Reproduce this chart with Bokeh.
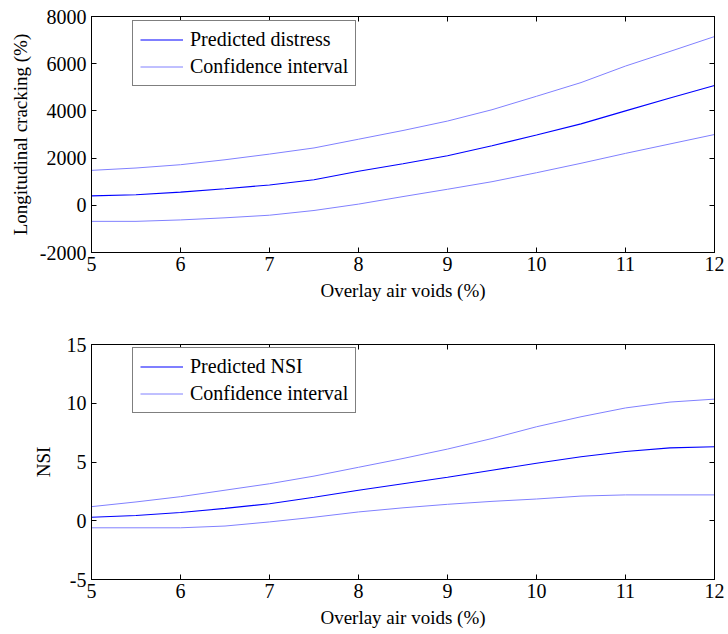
from bokeh.plotting import figure
from bokeh.layouts import column
from bokeh.models import (LinearAxis, Range1d, FixedTicker, Legend, LegendItem,
                          PrintfTickFormatter)
from bokeh.embed import file_html
from bokeh.resources import INLINE

# ---- data ----
air_voids = [5, 5.5, 6, 6.5, 7, 7.5, 8, 8.5, 9, 9.5, 10, 10.5, 11, 11.5, 12]

crack_pred = [400, 450, 560, 700, 860, 1080, 1440, 1760, 2100, 2520, 2980, 3450, 4000, 4550, 5080]
crack_upper = [1480, 1580, 1720, 1930, 2170, 2430, 2800, 3170, 3570, 4050, 4620, 5200, 5900, 6520, 7150]
crack_lower = [-680, -680, -620, -530, -420, -220, 50, 370, 680, 1000, 1380, 1780, 2200, 2600, 3000]

nsi_pred = [0.3, 0.45, 0.7, 1.05, 1.45, 2.0, 2.6, 3.15, 3.7, 4.3, 4.9, 5.45, 5.9, 6.2, 6.3]
nsi_upper = [1.2, 1.6, 2.05, 2.6, 3.15, 3.8, 4.55, 5.3, 6.1, 7.0, 8.0, 8.85, 9.6, 10.1, 10.35]
nsi_lower = [-0.6, -0.6, -0.6, -0.45, -0.1, 0.3, 0.75, 1.1, 1.4, 1.65, 1.85, 2.1, 2.2, 2.2, 2.2]

x_ticks = [5, 6, 7, 8, 9, 10, 11, 12]
crack_ticks = [-2000, 0, 2000, 4000, 6000, 8000]
nsi_ticks = [-5, 0, 5, 10, 15]

FONT = "Liberation Serif"
TICK_FS = "20px"
LABEL_FS = "19px"
LEG_FS = "20px"
DARK = "#0000ff"
LIGHT = "#8080ff"


def style_axis(ax, show_labels=True):
    ax.major_tick_in = 5
    ax.major_tick_out = 0
    ax.minor_tick_line_color = None
    ax.axis_line_color = "black"
    ax.major_tick_line_color = "black"
    ax.major_label_text_font = FONT
    ax.major_label_text_font_size = TICK_FS
    ax.major_label_text_color = "black" if show_labels else None
    ax.axis_label_text_font = FONT
    ax.axis_label_text_font_size = LABEL_FS
    ax.axis_label_text_font_style = "normal"
    ax.axis_label_text_color = "black"
    ax.major_label_standoff = 4 if show_labels else 0
    ax.axis_label_standoff = 6
    ax.formatter = PrintfTickFormatter(format="%d")


def make_panel(height, top, bottom, yr, yticks, ylabel, ylabel_standoff,
               pred, upper, lower, pred_label):
    p = figure(width=728, height=height, output_backend="svg", toolbar_location=None,
               x_range=Range1d(5, 12), y_range=Range1d(*yr),
               x_axis_location=None, y_axis_location=None,
               min_border_left=91, min_border_right=14,
               min_border_top=top, min_border_bottom=bottom)
    p.grid.visible = False
    p.outline_line_color = "black"
    p.outline_line_width = 1
    p.background_fill_color = "white"
    p.border_fill_color = "white"

    bottom_ax = LinearAxis(ticker=FixedTicker(ticks=x_ticks), axis_label="Overlay air voids (%)")
    left_ax = LinearAxis(ticker=FixedTicker(ticks=yticks), axis_label=ylabel)
    top_ax = LinearAxis(ticker=FixedTicker(ticks=x_ticks))
    right_ax = LinearAxis(ticker=FixedTicker(ticks=yticks))
    style_axis(bottom_ax)
    style_axis(left_ax)
    style_axis(top_ax, False)
    style_axis(right_ax, False)
    left_ax.major_label_standoff = 5
    left_ax.axis_label_standoff = ylabel_standoff
    p.add_layout(bottom_ax, "below")
    p.add_layout(left_ax, "left")
    p.add_layout(top_ax, "above")
    p.add_layout(right_ax, "right")

    r_pred = p.line(air_voids, pred, line_color=DARK, line_width=1.1)
    r_up = p.line(air_voids, upper, line_color=LIGHT, line_width=1)
    p.line(air_voids, lower, line_color=LIGHT, line_width=1)

    leg = Legend(items=[LegendItem(label=pred_label, renderers=[r_pred]),
                        LegendItem(label="Confidence interval", renderers=[r_up])],
                 location=(41, 166))
    leg.border_line_color = "black"
    leg.border_line_width = 1
    leg.background_fill_alpha = 1
    leg.label_text_font = FONT
    leg.label_text_font_size = LEG_FS
    leg.label_text_color = "black"
    leg.glyph_width = 43
    leg.glyph_height = 21
    leg.label_height = 21
    leg.label_standoff = 7
    leg.spacing = 4
    leg.padding = 7
    leg.margin = 0
    p.add_layout(leg)
    return p


p1 = make_panel(315, 16, 63, (-2000, 8000), crack_ticks, "Longitudinal cracking (%)", 6,
                crack_pred, crack_upper, crack_lower, "Predicted distress")
p2 = make_panel(319, 29, 55, (-5, 15), nsi_ticks, "NSI", 10,
                nsi_pred, nsi_upper, nsi_lower, "Predicted NSI")

layout = column(p1, p2, spacing=0)
open("out.html", "w").write(file_html(layout, INLINE))
